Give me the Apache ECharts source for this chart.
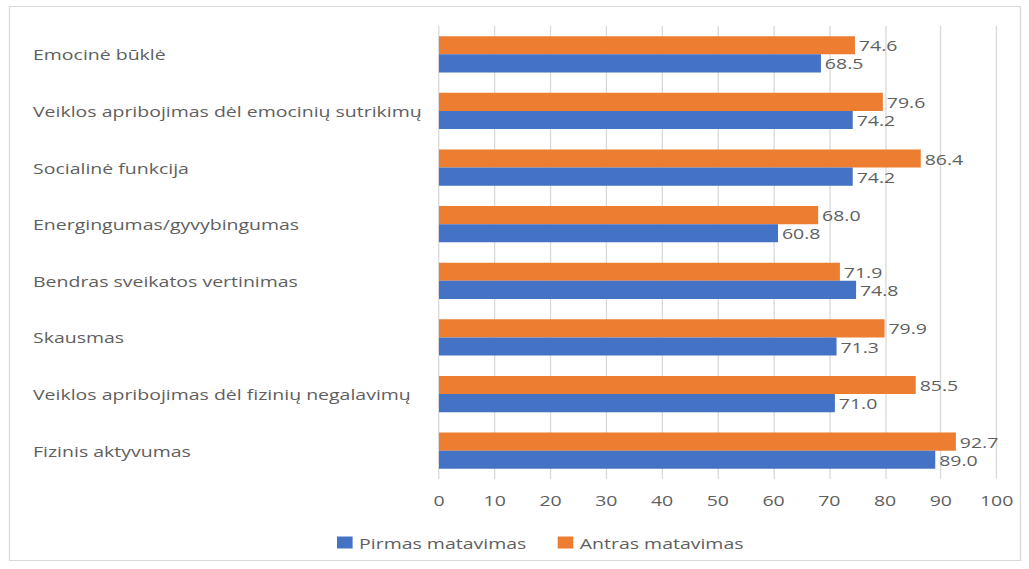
<!DOCTYPE html>
<html><head><meta charset="utf-8">
<script src="https://cdn.jsdelivr.net/npm/echarts@6/dist/echarts.min.js"></script>
<style>html,body{margin:0;padding:0;background:#fff;overflow:hidden}
#c{width:791.5px;height:569px;transform:scaleX(1.3);transform-origin:0 0}</style>
</head><body><div id="c"></div>
<script>
const categories = ['Emocinė būklė','Veiklos apribojimas dėl emocinių sutrikimų','Socialinė funkcija','Energingumas/gyvybingumas','Bendras sveikatos vertinimas','Skausmas','Veiklos apribojimas dėl fizinių negalavimų','Fizinis aktyvumas'];
const pirmas = [68.5, 74.2, 74.2, 60.8, 74.8, 71.3, 71.0, 89.0];
const antras = [74.6, 79.6, 86.4, 68.0, 71.9, 79.9, 85.5, 92.7];
const seriesNames = ['Pirmas matavimas','Antras matavimas'];
const xTicks = {min:0, max:100, interval:10};
const font = 'Open Sans';
const S = 1.3; // horizontal stretch of the reference image
const textColor = '#5f5f5f';
const chart = echarts.init(document.getElementById('c'), null, {renderer:'svg'});
const lbl = {show:true, position:'right', distance:3, color:textColor, fontFamily:font, fontSize:15, formatter:p=>p.value.toFixed(1)};
chart.setOption({
  animation:false,
  graphic:[{type:'rect', shape:{x:9.5/S,y:6.5,width:1011/S,height:554}, style:{fill:'none', stroke:'#d9d9d9', lineWidth:1}}],
  grid:{left:439/S, right:33/S, top:26, bottom:90, containLabel:false},
  legend:{data:seriesNames, bottom:19, left:337/S, padding:0, itemWidth:12, itemHeight:12, itemGap:24, icon:'rect',
    textStyle:{color:textColor, fontFamily:font, fontSize:15}},
  xAxis:{type:'value', min:xTicks.min, max:xTicks.max, interval:xTicks.interval, axisLine:{show:false}, axisTick:{show:false},
    splitLine:{lineStyle:{color:'#d9d9d9'}}, axisLabel:{color:textColor, fontFamily:font, fontSize:15, margin:13}},
  yAxis:{type:'category', data:categories, inverse:true, axisLine:{show:false}, axisTick:{show:false},
    axisLabel:{align:'left', margin:406/S, color:textColor, fontFamily:font, fontSize:15}},
  series:[
    {name:seriesNames[1], type:'bar', data:antras, itemStyle:{color:'#ED7D31'}, barGap:'0%', barCategoryGap:'36%', label:lbl},
    {name:seriesNames[0], type:'bar', data:pirmas, itemStyle:{color:'#4472C4'}, barGap:'0%', barCategoryGap:'36%', label:lbl}
  ]
});
</script></body></html>
